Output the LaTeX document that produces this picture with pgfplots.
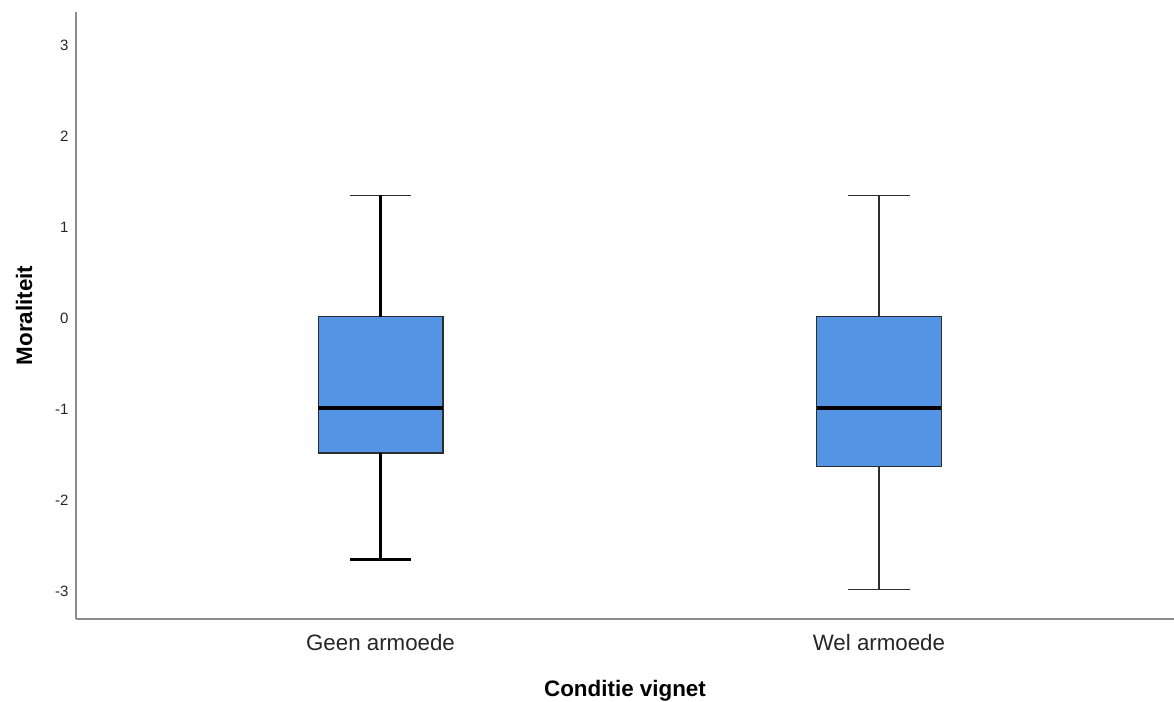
\documentclass[border=0pt]{standalone}
\usepackage{pgfplots}
\pgfplotsset{compat=1.18}
\usepgfplotslibrary{statistics}
\usepackage{fontspec}
\setmainfont{Liberation Sans}
\definecolor{boxfill}{RGB}{83,149,228}
\definecolor{boxedge}{RGB}{45,45,45}
\definecolor{axgray}{RGB}{140,140,140}
\begin{document}
\begin{tikzpicture}
\begin{axis}[
  scale only axis,
  width=1098bp, height=607bp,
  xmin=0.389, xmax=2.592,
  ymin=-3.324, ymax=3.346,
  axis lines=left,
  axis line style={draw=axgray, line width=1.2bp, -},
  xtick={1,2},
  xticklabels={Geen armoede, Wel armoede},
  ytick={-3,-2,-1,0,1,2,3},
  yticklabels={{-3},{-2},{-1},{0},{1},{2},{3}},
  major tick length=0pt,
  tick style={draw=none},
  y tick label style={font=\fontsize{15bp}{17bp}\selectfont, xshift=-4bp, yshift=-1.5bp, text=black!85},
  x tick label style={font=\fontsize{22.3bp}{26bp}\selectfont, yshift=-12bp, text=black!85},
  xlabel={\textbf{Conditie vignet}},
  ylabel={\textbf{Moraliteit}},
  xlabel style={font=\fontsize{22.4bp}{26bp}\selectfont, yshift=-22.5bp},
  ylabel style={font=\fontsize{22.4bp}{26bp}\selectfont, yshift=16bp},
  clip=false,
  boxplot/draw direction=y,
]
\addplot[
  boxplot prepared={
    median=-1, upper quartile=0, lower quartile=-1.5,
    upper whisker=1.33, lower whisker=-2.67,
    draw position=1, box extend=0.25, whisker extend=0.123,
    every box/.style={fill=boxfill, draw=boxedge, line width=1.4bp},
    every whisker/.style={draw=boxedge, line width=1.6bp},
    every median/.style={draw=black, line width=4bp},
  },
] coordinates {};
% heavier whisker segments of the first box
\addplot[black, line width=2.6bp] coordinates {(1,0) (1,1.33)};
\addplot[black, line width=2.6bp] coordinates {(1,-1.5) (1,-2.67)};
\addplot[black, line width=2.6bp] coordinates {(0.9385,-2.67) (1.0615,-2.67)};
\addplot[
  boxplot prepared={
    median=-1, upper quartile=0, lower quartile=-1.65,
    upper whisker=1.33, lower whisker=-3.0,
    draw position=2, box extend=0.25, whisker extend=0.123,
    every box/.style={fill=boxfill, draw=boxedge, line width=1.4bp},
    every whisker/.style={draw=boxedge, line width=1.6bp},
    every median/.style={draw=black, line width=4bp},
  },
] coordinates {};
\coordinate (bl) at (rel axis cs:0,0);
\end{axis}
\pgfresetboundingbox
\path ([shift={(-76bp,-83bp)}]bl) rectangle ([shift={(1098bp,619bp)}]bl);
\end{tikzpicture}
\end{document}
